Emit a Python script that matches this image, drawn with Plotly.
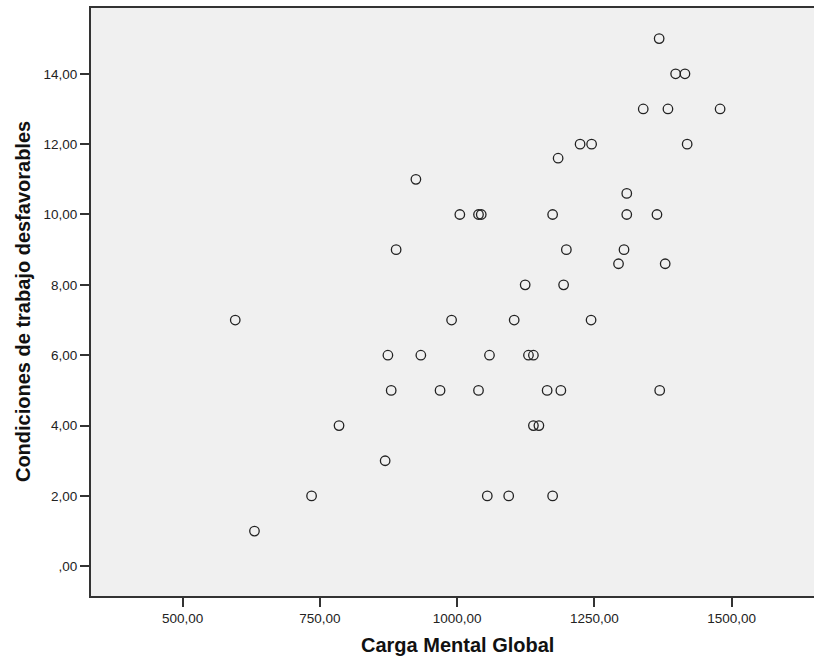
import plotly.graph_objects as go

# Data (Carga Mental Global vs Condiciones de trabajo desfavorables)
carga_mental = [
    1368, 1398, 1415, 1339, 1384, 1479, 1224, 1245, 1419, 1184,
    925, 1309, 1005, 1039, 1044, 1174, 1309, 1364, 889, 1199,
    1304, 1294, 1379, 1124, 1194, 990, 1104, 1244, 596, 631,
    874, 934, 1059, 1130, 1139, 880, 969, 1039, 1164, 1189,
    1369, 785, 1139, 1149, 869, 735, 1055, 1094, 1174,
]
condiciones = [
    15, 14, 14, 13, 13, 13, 12, 12, 12, 11.6,
    11, 10.6, 10, 10, 10, 10, 10, 10, 9, 9,
    9, 8.6, 8.6, 8, 8, 7, 7, 7, 7, 1,
    6, 6, 6, 6, 6, 5, 5, 5, 5, 5,
    5, 4, 4, 4, 3, 2, 2, 2, 2,
]

x_tickvals = [500, 750, 1000, 1250, 1500]
x_ticktext = ["500,00", "750,00", "1000,00", "1250,00", "1500,00"]
y_tickvals = [0, 2, 4, 6, 8, 10, 12, 14]
y_ticktext = [",00", "2,00", "4,00", "6,00", "8,00", "10,00", "12,00", "14,00"]

x_title = "Carga Mental Global"
y_title = "Condiciones de trabajo desfavorables"

fig = go.Figure()
fig.add_trace(go.Scatter(
    x=carga_mental, y=condiciones, mode="markers",
    marker=dict(symbol="circle-open", size=9.5, color="#222222",
                line=dict(width=1.3, color="#222222")),
    showlegend=False, hoverinfo="x+y",
))

font_family = "Liberation Sans, Arial, sans-serif"
tick_font = dict(size=13.5, family=font_family, color="#222222")
title_font = dict(size=20, family=font_family, color="#111111")

fig.update_layout(
    width=814, height=656,
    margin=dict(l=91, r=0, t=8, b=60),
    paper_bgcolor="white",
    plot_bgcolor="#f0f0f0",
    font=dict(family=font_family, size=13, color="#222222"),
    xaxis=dict(
        range=[333.3, 1650], tickvals=x_tickvals, ticktext=x_ticktext,
        showgrid=False, zeroline=False, showline=True, linecolor="#333333",
        linewidth=2, mirror=True, ticks="outside", ticklen=9, tickwidth=1.5,
        tickcolor="#333333", tickfont=tick_font,
    ),
    yaxis=dict(
        range=[-0.845, 15.87], tickvals=y_tickvals, ticktext=y_ticktext,
        showgrid=False, zeroline=False, showline=True, linecolor="#333333",
        linewidth=2, mirror=False, ticks="outside", ticklen=9, tickwidth=1.5,
        tickcolor="#333333", tickfont=tick_font,
    ),
    annotations=[
        dict(text="<b>" + x_title + "</b>", xref="paper", yref="paper",
             x=0.507, y=-0.083, xanchor="center", yanchor="middle",
             showarrow=False, font=title_font),
        dict(text="<b>" + y_title + "</b>", xref="paper", yref="paper",
             x=-0.094, y=0.5, xanchor="center", yanchor="middle",
             textangle=-90, showarrow=False, font=title_font),
    ],
)

# remove the default 8px page margin so the figure fills the window exactly
fig.write_html(
    "out.html",
    config={"displayModeBar": False},
    post_script="document.body.style.margin='0';document.body.style.overflow='hidden';",
)
